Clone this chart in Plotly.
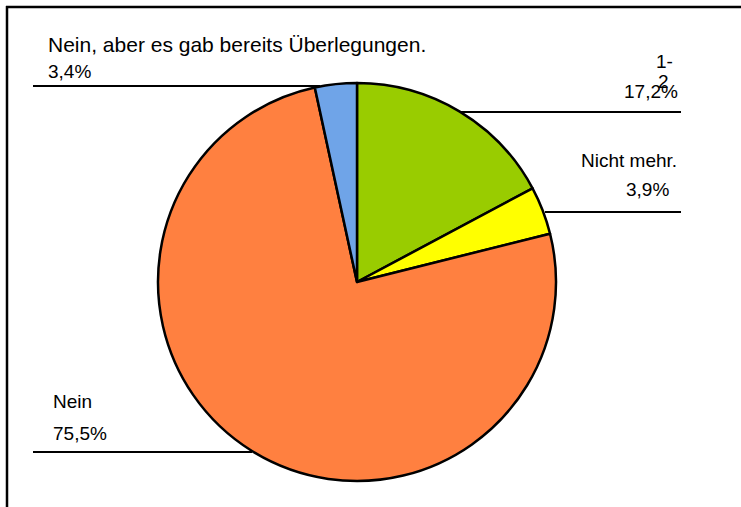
import plotly.graph_objects as go

W, H = 741, 507

# Data
categories = ["1-2", "Nicht mehr.", "Nein", "Nein, aber es gab bereits Überlegungen."]
values = [17.2, 3.9, 75.5, 3.4]
pct_labels = ["17,2%", "3,9%", "75,5%", "3,4%"]
colors = ["#99CC00", "#FFFF00", "#FF8040", "#6FA4E8"]

# Pie geometry in pixels
cx, cy, r = 357, 282, 199

def px(x):
    return x / W

def py(y):
    return 1 - y / H

fig = go.Figure()
fig.add_trace(go.Pie(
    labels=categories,
    values=values,
    sort=False,
    direction="clockwise",
    rotation=0,
    textinfo="none",
    hoverinfo="label+percent",
    marker=dict(colors=colors, line=dict(color="black", width=2.5)),
    domain=dict(x=[px(cx - r), px(cx + r)], y=[py(cy + r), py(cy - r)]),
    showlegend=False,
))

font = dict(family="Liberation Sans, Arial, sans-serif", size=19, color="black")

annos = [
    # text, x, y, xanchor, size
    (categories[3], 46, 44.5, "left", 21),
    (pct_labels[3], 46, 71, "left", 19),
    ("1-", 654, 62, "left", 19),
    ("2", 656, 81, "left", 19),
    (pct_labels[0], 680, 91.5, "right", 19),
    (categories[1], 679, 160.5, "right", 19),
    (pct_labels[1], 671, 189.5, "right", 19),
    (categories[2], 51, 401.5, "left", 19),
    (pct_labels[2], 51, 433.5, "left", 19),
]
for t, x, y, xa, s in annos:
    fig.add_annotation(
        text=t, x=px(x), y=py(y), xref="paper", yref="paper",
        xanchor=xa, yanchor="middle", showarrow=False,
        font=dict(family=font["family"], size=s, color="black"),
    )

# leader lines (pixel positions)
lines = [
    (33, 86, 320, 86),
    (460, 112, 681, 112),
    (545, 212, 681, 212),
    (33, 452, 252, 452),
]
for x0, y0, x1, y1 in lines:
    fig.add_shape(type="line", xref="paper", yref="paper",
                  x0=px(x0), y0=py(y0), x1=px(x1), y1=py(y1),
                  line=dict(color="black", width=2), layer="below")

# frame
fig.add_shape(type="line", xref="paper", yref="paper",
              x0=px(6), y0=py(7), x1=1.0, y1=py(7),
              line=dict(color="black", width=2.5))
fig.add_shape(type="line", xref="paper", yref="paper",
              x0=px(7), y0=py(6), x1=px(7), y1=0.0,
              line=dict(color="black", width=2.5))

fig.update_layout(
    width=W, height=H,
    margin=dict(l=0, r=0, t=0, b=0),
    paper_bgcolor="white", plot_bgcolor="white",
    font=font,
    showlegend=False,
)

fig.write_html(
    "out.html",
    config={"displayModeBar": False},
    post_script="document.body.style.margin='0';document.body.style.overflow='hidden';",
)
